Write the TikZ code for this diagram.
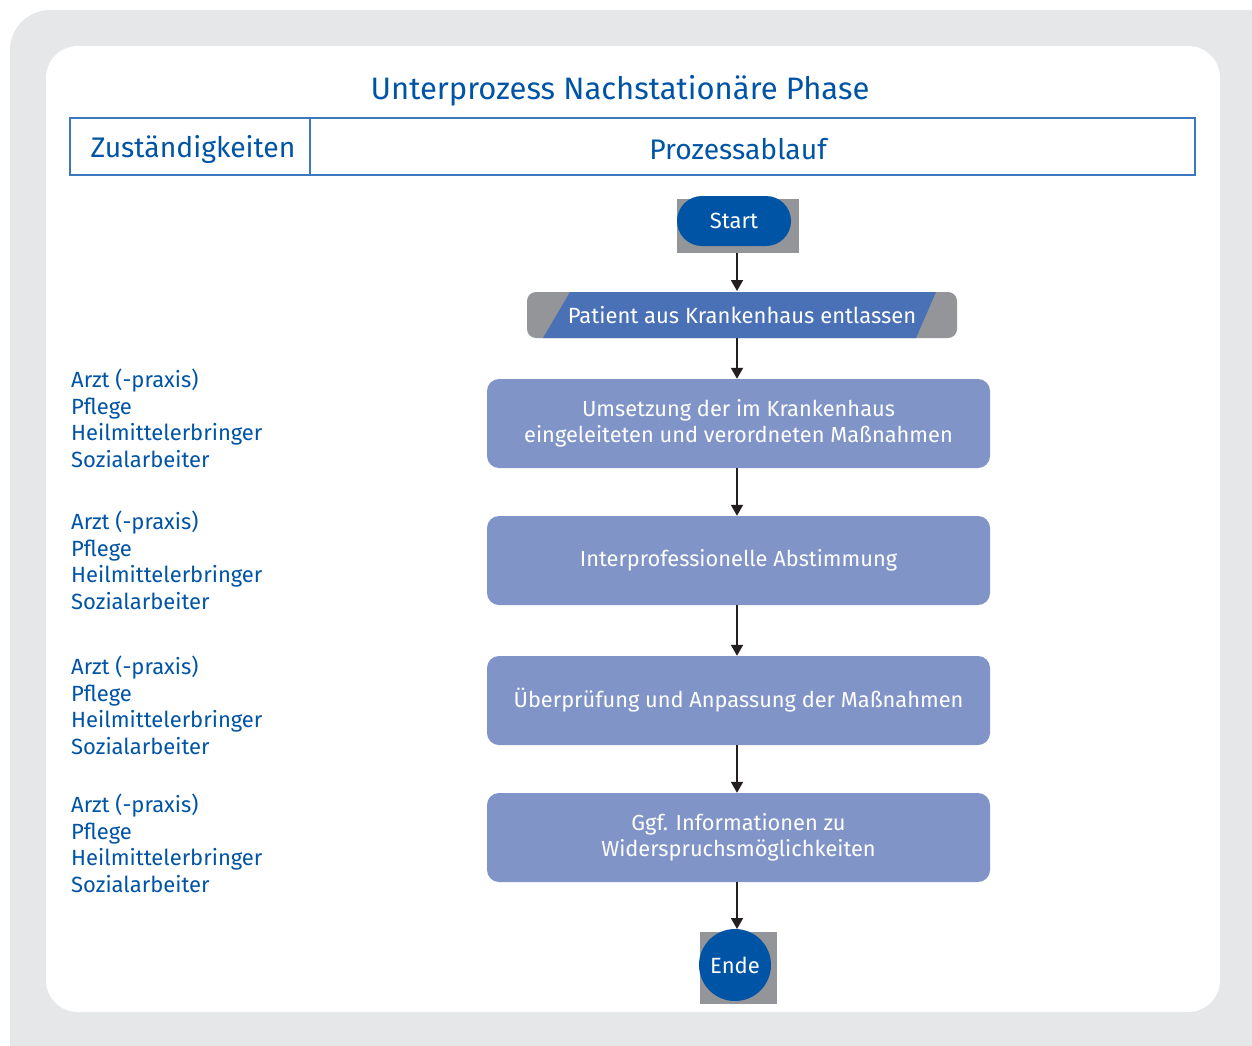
\documentclass[tikz,border=0pt]{standalone}
\usepackage{fontspec}
\setmainfont{Fira Sans}
\usetikzlibrary{arrows.meta,shapes.geometric}
\definecolor{bgout}{HTML}{E6E7E8}
\definecolor{tblue}{HTML}{0054A6}
\definecolor{lineblue}{HTML}{3C78C0}
\definecolor{boxfill}{HTML}{8094C8}
\definecolor{parblue}{HTML}{4A70B6}
\definecolor{shgray}{HTML}{939598}
\definecolor{arrowc}{HTML}{231F20}
\tikzset{
  procbox/.style={fill=boxfill, rounded corners=12pt, minimum width=503pt, minimum height=89pt, text=white, align=center, font=\fontsize{21.8}{26}\selectfont, inner sep=0pt},
  roletext/.style={text=tblue, align=left, anchor=north west, font=\fontsize{22}{26.5}\selectfont, inner sep=0pt},
  flow/.style={draw=arrowc, line width=1.8pt, -{Triangle[width=12pt,length=11pt]}},
  headtext/.style={text=tblue, font=\fontsize{28.3}{32}\selectfont, inner sep=0pt}
}
\begin{document}
\begin{tikzpicture}[x=1pt,y=-1pt]
\useasboundingbox (0,0) rectangle (1252,1046);
% backgrounds
\fill[bgout, rounded corners=40pt] (10,10) rectangle (1290,1090);
\fill[white, rounded corners=32pt] (46,46) rectangle (1220,1012);
% title
\node[text=tblue, font=\fontsize{31}{34}\selectfont, inner sep=0pt] (title) at (620,91) {Unterprozess Nachstationäre Phase};
% header
\draw[lineblue, line width=1.3pt] (70,118) rectangle (1195,175);
\draw[lineblue, line width=1.3pt] (310,118) -- (310,175);
\node[headtext] (hz) at (193,149) {Zuständigkeiten};
\node[headtext] (hp) at (738,149) {Prozessablauf};
% Start
\fill[shgray] (677,199) rectangle (799,253);
\node[fill=tblue, rounded corners=25pt, minimum width=114pt, minimum height=50pt, text=white, font=\fontsize{22}{26}\selectfont, inner sep=0pt] (start) at (734,221) {Start};
\coordinate (startb) at (737,253);
% Patient
\fill[shgray, rounded corners=9pt] (527,292) rectangle (957,338);
\fill[parblue] (543,338) -- (570,292) -- (936,292) -- (916,338) -- cycle;
\node[text=white, font=\fontsize{22}{26}\selectfont, inner sep=0pt, minimum width=430pt, minimum height=46pt] (patient) at (742,315) {Patient aus Krankenhaus entlassen};
% process boxes
\node[procbox] (b1) at (738.5,423.5) {Umsetzung der im Krankenhaus\\eingeleiteten und verordneten Maßnahmen};
\node[procbox] (b2) at (738.5,560.5) {\raisebox{-2pt}{Interprofessionelle Abstimmung}};
\node[procbox] (b3) at (738.5,700.5) {\raisebox{-1pt}{Überprüfung und Anpassung der Maßnahmen}};
\node[procbox] (b4) at (738.5,837.5) {Ggf. Informationen zu\\Widerspruchsmöglichkeiten};
% Ende
\fill[shgray] (700,932) rectangle (777,1004);
\node[circle, fill=tblue, minimum size=72pt, inner sep=0pt, text=white, font=\fontsize{22}{26}\selectfont] (ende) at (735,965) {Ende};
% arrows
\draw[flow] (startb) -- (737,291);
\draw[flow] (737,338) -- (b1.north -| 737,0);
\draw[flow] (b1.south -| 737,0) -- (b2.north -| 737,0);
\draw[flow] (b2.south -| 737,0) -- (b3.north -| 737,0);
\draw[flow] (b3.south -| 737,0) -- (b4.north -| 737,0);
\draw[flow] (b4.south -| 737,0) -- (737,929);
% roles
\node[roletext] (r1) at (71,369) {Arzt (-praxis)\\Pflege\\Heilmittelerbringer\\Sozialarbeiter};
\node[roletext] (r2) at (71,511) {Arzt (-praxis)\\Pflege\\Heilmittelerbringer\\Sozialarbeiter};
\node[roletext] (r3) at (71,656) {Arzt (-praxis)\\Pflege\\Heilmittelerbringer\\Sozialarbeiter};
\node[roletext] (r4) at (71,794) {Arzt (-praxis)\\Pflege\\Heilmittelerbringer\\Sozialarbeiter};
\end{tikzpicture}
\end{document}
